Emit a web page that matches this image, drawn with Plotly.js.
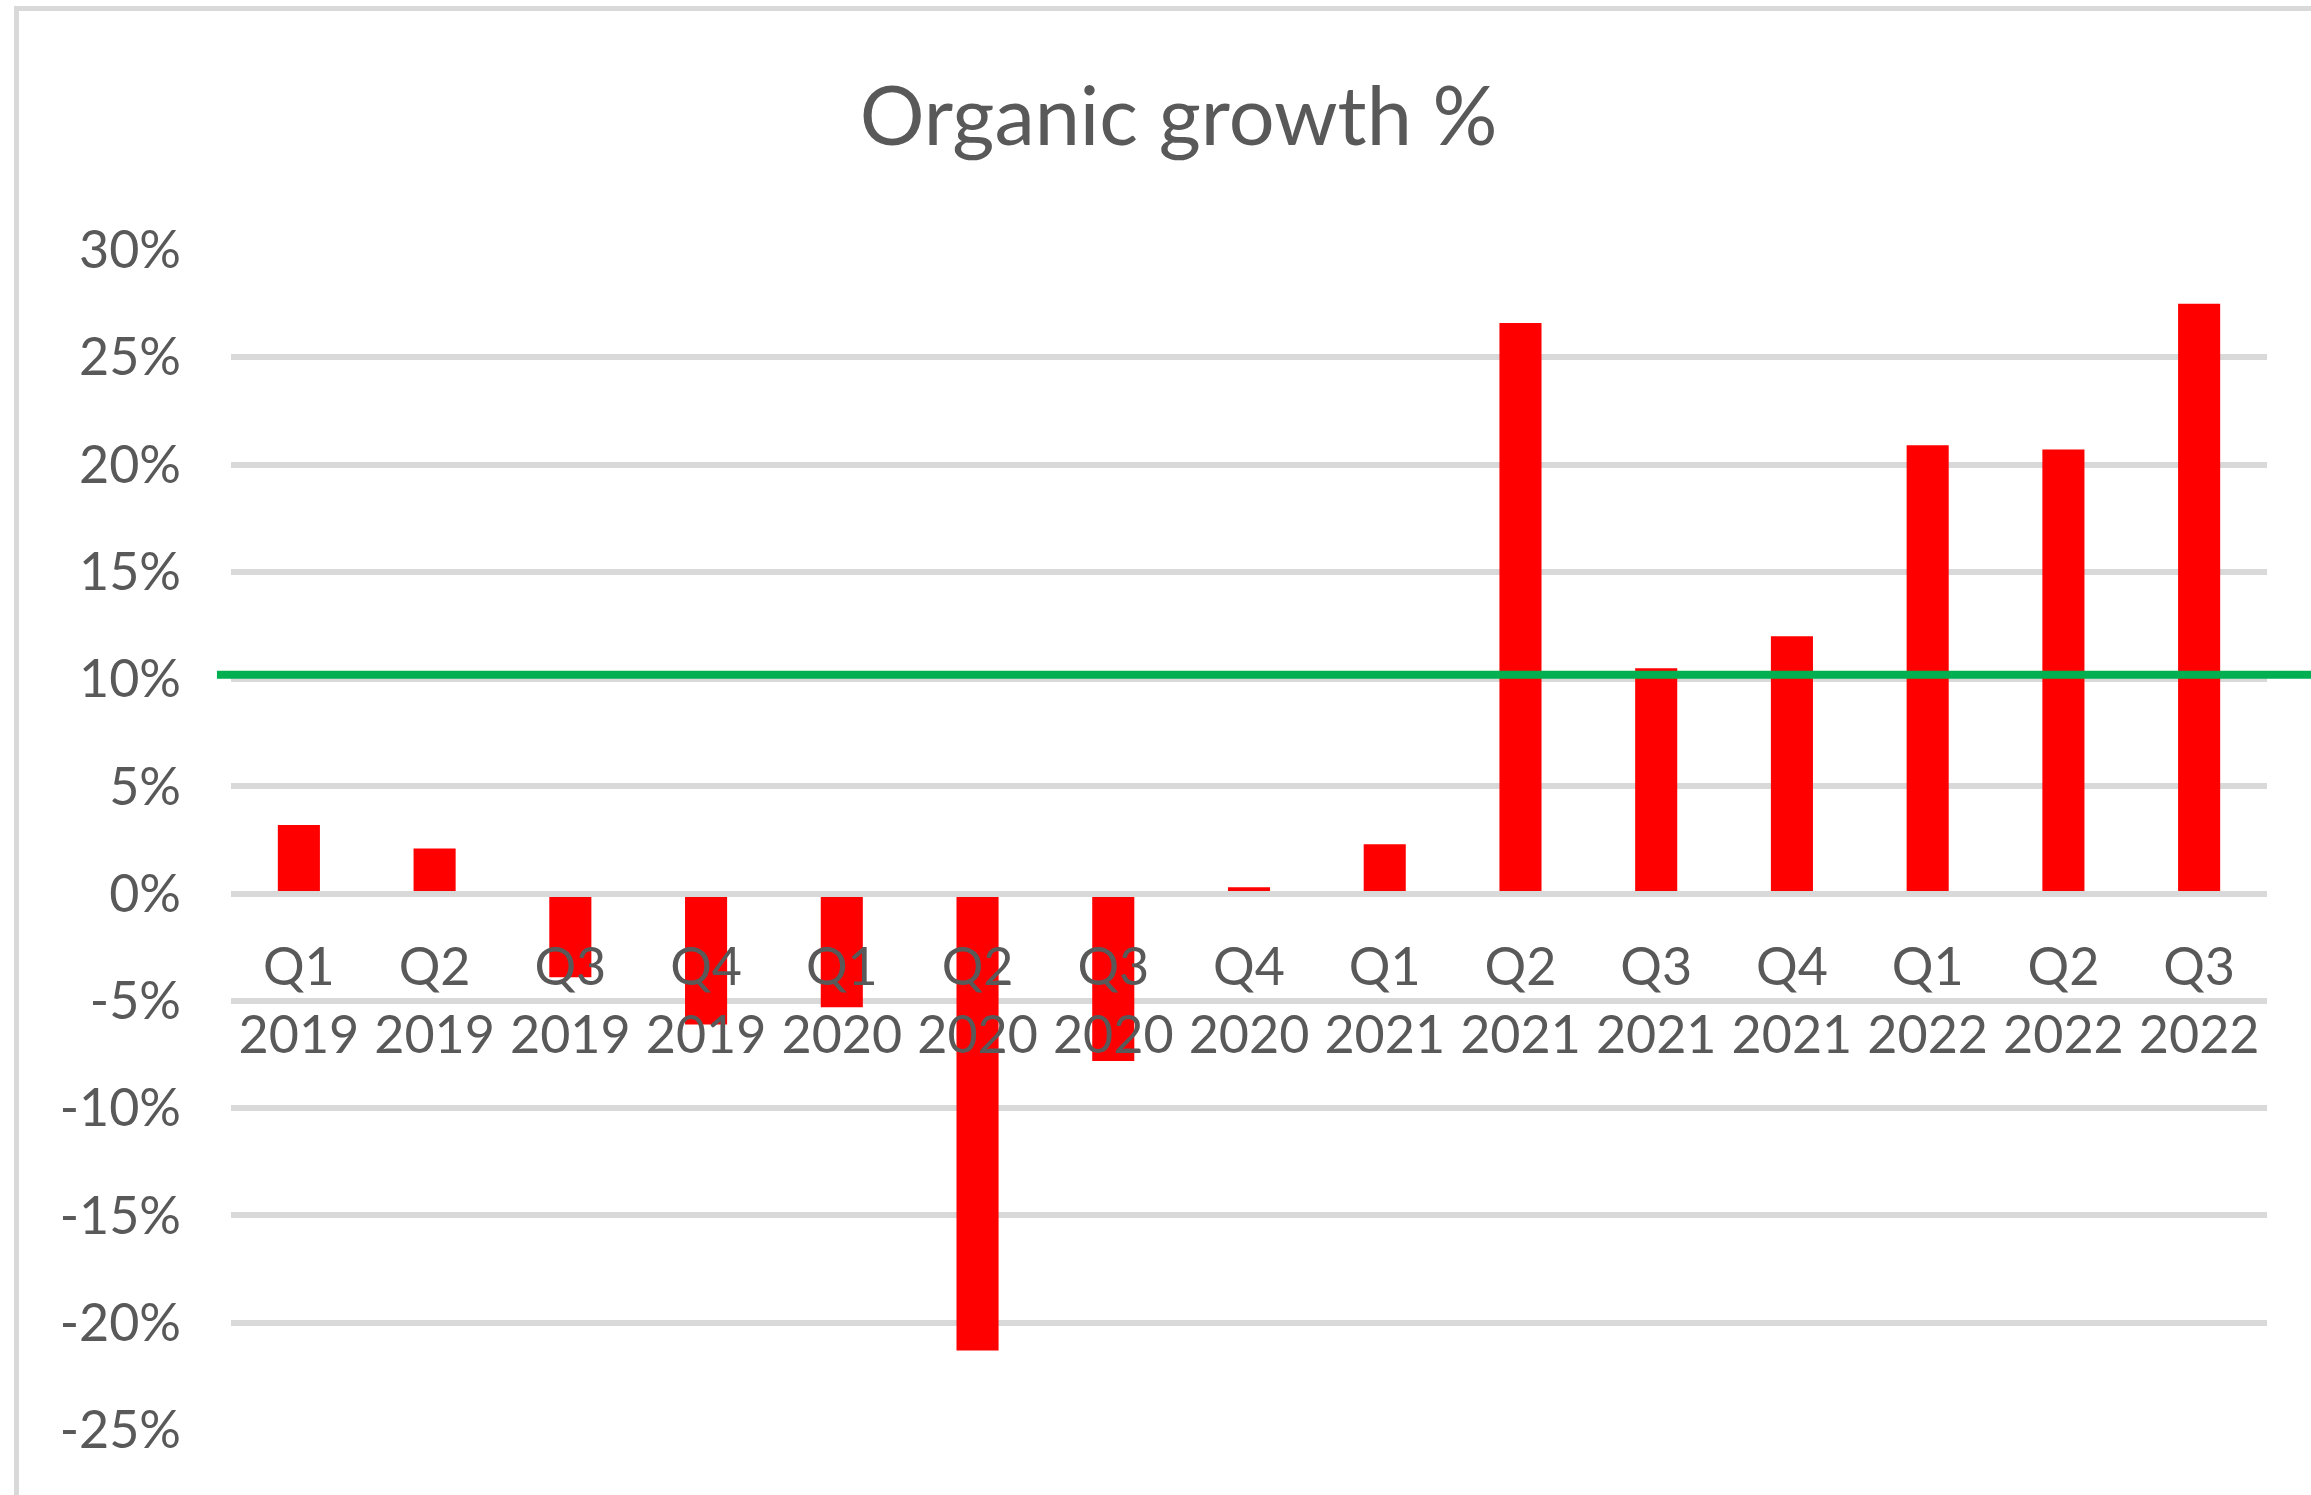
<!DOCTYPE html>
<html>
<head>
<meta charset="utf-8">
<script src="https://cdn.plot.ly/plotly-3.0.1.min.js"></script>
<style>
  html, body { margin: 0; padding: 0; background: #ffffff; }
  #chart { width: 2311px; height: 1495px; }
</style>
</head>
<body>
<div id="chart"></div>
<script>
// ---- data ----
const categories = ["Q1 2019", "Q2 2019", "Q3 2019", "Q4 2019",
                    "Q1 2020", "Q2 2020", "Q3 2020", "Q4 2020",
                    "Q1 2021", "Q2 2021", "Q3 2021", "Q4 2021",
                    "Q1 2022", "Q2 2022", "Q3 2022"];
const categoryLabels = ["Q1<br>2019", "Q2<br>2019", "Q3<br>2019", "Q4<br>2019",
                        "Q1<br>2020", "Q2<br>2020", "Q3<br>2020", "Q4<br>2020",
                        "Q1<br>2021", "Q2<br>2021", "Q3<br>2021", "Q4<br>2021",
                        "Q1<br>2022", "Q2<br>2022", "Q3<br>2022"];
const organicGrowth = [0.032, 0.021, -0.039, -0.061,
                       -0.053, -0.213, -0.078, 0.003,
                       0.023, 0.266, 0.105, 0.120,
                       0.209, 0.207, 0.275];
const yTickValues = [0.30, 0.25, 0.20, 0.15, 0.10, 0.05, 0, -0.05, -0.10, -0.15, -0.20, -0.25];
const yTickLabels = ["30%", "25%", "20%", "15%", "10%", "5%", "0%", "-5%", "-10%", "-15%", "-20%", "-25%"];
const targetLevel = 0.102;
const yRange = [-0.25, 0.30];

const textColor = "#595959";
const gridColor = "#d9d9d9";
const fontFamily = "Lato, 'Open Sans', sans-serif";

const trace = {
  type: "bar",
  x: categories,
  y: organicGrowth,
  marker: { color: "#ff0000", line: { width: 0 } },
  hoverinfo: "x+y"
};

const zeroPos = (0 - yRange[0]) / (yRange[1] - yRange[0]);

const layout = {
  width: 2311,
  height: 1495,
  paper_bgcolor: "#ffffff",
  plot_bgcolor: "#ffffff",
  margin: { l: 231, r: 44, t: 250, b: 65, pad: 0 },
  showlegend: false,
  bargap: 0.69,
  title: {
    text: "Organic growth %",
    font: { family: fontFamily, size: 81, color: textColor },
    x: 0.510, xref: "container", xanchor: "center",
    y: 0.922, yref: "container", yanchor: "middle"
  },
  xaxis: {
    type: "category",
    tickmode: "array",
    tickvals: categories,
    ticktext: categoryLabels,
    tickfont: { family: fontFamily, size: 52, color: textColor },
    ticks: "",
    showgrid: false,
    zeroline: false,
    showline: true,
    linecolor: gridColor,
    linewidth: 6,
    anchor: "free",
    position: zeroPos,
    layer: "above traces",
    ticklabelstandoff: 26,
    automargin: false,
    fixedrange: true
  },
  yaxis: {
    range: yRange,
    tickmode: "array",
    tickvals: yTickValues,
    ticktext: yTickLabels,
    tickfont: { family: fontFamily, size: 52, color: textColor },
    ticks: "",
    showgrid: true,
    gridcolor: gridColor,
    gridwidth: 6,
    zeroline: false,
    showline: false,
    ticklabelstandoff: 49,
    automargin: false,
    fixedrange: true
  },
  shapes: [
    {
      type: "rect",
      xref: "paper", yref: "paper",
      x0: -0.10536, x1: 1.2, y0: -0.3, y1: 1.2047,
      line: { color: gridColor, width: 5 },
      fillcolor: "rgba(0,0,0,0)",
      layer: "below"
    },
    {
      type: "line",
      xref: "paper", yref: "y",
      x0: -0.0069, x1: 1.03,
      y0: targetLevel, y1: targetLevel,
      line: { color: "#00b050", width: 8 },
      layer: "above"
    }
  ]
};

Plotly.newPlot("chart", [trace], layout, { displayModeBar: false, staticPlot: true });
</script>
</body>
</html>
